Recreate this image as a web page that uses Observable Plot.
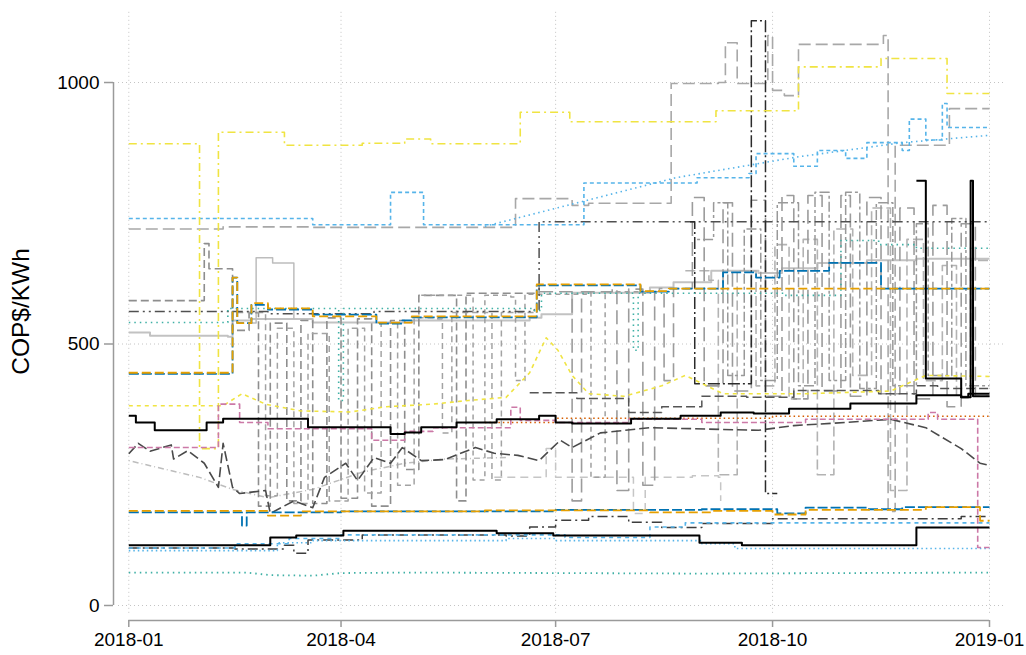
<!DOCTYPE html>
<html><head><meta charset="utf-8">
<script src="https://cdn.jsdelivr.net/npm/d3@7"></script>
<script src="https://cdn.jsdelivr.net/npm/@observablehq/plot@0.6"></script>
<style>body{margin:0;background:#fff}</style>
</head><body><div id="chart"></div>
<script>
// ---------- tick labels ----------
const xTicks = ["2018-01-01","2018-04-01","2018-07-01","2018-10-01","2019-01-01"];
const yTicks = [0, 500, 1000];
const yLabel = "COP$/KWh";

// ---------- series: [date, COP$/KWh] ----------
const lightGray1 = [["2018-01-01",522],["2018-01-10",516],["2018-02-12",514],["2018-02-14",545],["2018-02-22",548],["2018-03-20",541],["2018-05-01",545],["2018-06-20",550],["2018-06-25",557],["2018-07-08",598],["2018-08-10",608],["2018-08-20",618],["2018-09-05",640],["2018-09-25",636],["2018-10-05",645],["2018-10-20",655],["2018-11-10",660],["2018-12-01",663],["2019-01-01",663]];
const lightGray2 = [["2018-02-22",540],["2018-02-24",665],["2018-03-03",655],["2018-03-10",655],["2018-03-12",548]];
const lightGray3 = [["2018-01-01",277],["2018-01-15",262],["2018-01-31",245],["2018-02-14",222],["2018-03-01",206],["2018-03-20",222],["2018-04-10",255],["2018-04-28",272],["2018-05-15",280],["2018-06-10",283]];
const lightGray4 = [["2018-06-05",245],["2018-06-25",245],["2018-06-27",300],["2018-07-01",245],["2018-07-20",245],["2018-08-03",176],["2018-08-08",245],["2018-08-28",248],["2018-09-08",245],["2018-09-09",200]];
const grayA = [["2018-01-01",720],["2018-02-10",724],["2018-03-20",723],["2018-06-14",778],["2018-07-08",765],["2018-07-15",769],["2018-08-19",998],["2018-09-08",1000],["2018-09-11",1076],["2018-09-16",998],["2018-09-29",1090],["2018-10-01",985],["2018-10-06",975],["2018-10-12",1073],["2018-11-17",1090],["2018-11-19",180],["2018-11-22",880],["2018-12-15",950],["2019-01-01",950]];
const gray1 = [["2018-01-01",583],["2018-02-02",692],["2018-02-04",644],["2018-02-14",526],["2018-02-21",560],["2018-02-25",190],["2018-03-02",540],["2018-03-09",200],["2018-03-15",545],["2018-03-20",195],["2018-03-26",550],["2018-04-01",205],["2018-04-08",548],["2018-04-14",190],["2018-04-22",545],["2018-04-28",260],["2018-05-04",593],["2018-05-18",593],["2018-05-20",200],["2018-05-24",597],["2018-06-22",597],["2018-06-24",612]];
const gray2 = [["2018-02-16",560],["2018-02-28",210],["2018-03-05",530],["2018-03-12",195],["2018-03-18",520],["2018-03-27",200],["2018-04-04",530],["2018-04-11",215],["2018-04-18",540],["2018-04-25",230],["2018-05-02",550],["2018-05-12",548],["2018-05-14",330],["2018-05-18",560],["2018-06-02",560],["2018-06-04",240],["2018-06-08",560],["2018-06-22",562]];
const gray3 = [["2018-06-24",600],["2018-07-06",600],["2018-07-08",200],["2018-07-12",600],["2018-07-25",605],["2018-07-27",220],["2018-08-01",605],["2018-08-05",605],["2018-08-07",230],["2018-08-12",600],["2018-08-16",430],["2018-08-20",606],["2018-08-28",780],["2018-09-02",420],["2018-09-10",770],["2018-09-14",410],["2018-09-22",775],["2018-09-28",400],["2018-10-05",784],["2018-10-10",395],["2018-10-16",784],["2018-10-22",410],["2018-10-30",784],["2018-11-03",400],["2018-11-10",780],["2018-11-16",405],["2018-11-24",760],["2018-11-30",395],["2018-12-08",765],["2018-12-14",380],["2018-12-20",730],["2018-12-26",400],["2019-01-01",400]];
const gray4 = [["2018-08-25",640],["2018-09-04",622],["2018-09-08",250],["2018-09-16",640],["2018-09-24",420],["2018-10-02",690],["2018-10-08",395],["2018-10-14",700],["2018-10-20",250],["2018-10-27",720],["2018-11-04",440],["2018-11-12",760],["2018-11-20",220],["2018-11-27",700],["2018-12-04",430],["2018-12-12",650],["2018-12-18",400],["2018-12-24",660],["2019-01-01",660]];
const gray5 = [["2018-08-30",700],["2018-09-06",770],["2018-09-12",440],["2018-09-19",720],["2018-09-26",430],["2018-10-03",770],["2018-10-12",420],["2018-10-19",790],["2018-10-25",430],["2018-11-01",790],["2018-11-07",415],["2018-11-14",770],["2018-11-21",420],["2018-12-01",730],["2018-12-06",440],["2018-12-16",740],["2018-12-22",420],["2019-01-01",420]];
const gray6 = [["2018-05-05",593],["2018-05-25",593],["2018-05-27",240],["2018-06-01",593],["2018-06-12",590],["2018-06-14",430],["2018-06-18",595],["2018-07-14",598],["2018-07-16",245],["2018-07-22",600],["2018-08-14",606],["2018-08-16",600]];
const darkGray1 = [["2018-01-01",290],["2018-01-05",310],["2018-01-10",295],["2018-01-19",307],["2018-01-20",280],["2018-01-26",296],["2018-02-02",272],["2018-02-08",226],["2018-02-10",310],["2018-02-14",226],["2018-02-17",214],["2018-02-28",220],["2018-03-02",176],["2018-03-12",200],["2018-03-20",187],["2018-03-25",245],["2018-04-03",272],["2018-04-08",239],["2018-04-15",283],["2018-04-22",272],["2018-04-27",302],["2018-05-05",277],["2018-05-15",279],["2018-05-28",302],["2018-06-05",291],["2018-06-15",287],["2018-06-24",277],["2018-07-03",316],["2018-07-08",302],["2018-07-20",330],["2018-08-10",340],["2018-09-25",335],["2018-10-10",344],["2018-11-01",350],["2018-11-20",356],["2018-12-05",340],["2018-12-20",300],["2018-12-28",272],["2019-01-01",268]];
const darkGray2 = [["2018-06-20",407],["2018-07-10",396],["2018-08-01",369],["2018-08-15",380],["2018-09-01",400],["2018-09-20",398],["2018-10-10",411],["2018-11-15",405],["2018-12-01",420],["2018-12-10",415],["2019-01-01",410]];
const darkGray3 = [["2018-01-01",562],["2018-02-01",562],["2018-03-01",558],["2018-04-15",562],["2018-06-22",566],["2018-06-24",734],["2019-01-01",736]];
const darkGray4 = [["2018-01-01",110],["2018-02-15",108],["2018-03-08",115],["2018-03-12",100],["2018-03-18",125],["2018-04-10",135],["2018-06-10",133],["2018-06-20",150],["2018-07-01",163],["2018-07-15",170],["2018-08-01",159],["2018-08-15",149],["2018-09-01",157],["2018-10-01",166],["2018-12-10",166],["2018-12-20",170],["2019-01-01",170]];
const nearBlack1 = [["2018-08-27",734],["2018-08-29",424],["2018-09-21",424],["2018-09-22",1118],["2018-09-27",1118],["2018-09-28",214],["2018-10-03",214]];
const yellow1 = [["2018-01-01",883],["2018-01-31",300],["2018-02-08",905],["2018-03-08",880],["2018-04-10",884],["2018-04-28",892],["2018-05-09",883],["2018-06-16",943],["2018-07-07",925],["2018-09-07",946],["2018-10-12",1030],["2018-11-16",1046],["2018-12-14",979],["2019-01-01",979]];
const yellow2 = [["2018-01-01",382],["2018-01-31",382],["2018-02-10",382],["2018-02-18",405],["2018-02-28",385],["2018-03-15",372],["2018-04-05",370],["2018-04-20",380],["2018-05-10",385],["2018-05-25",392],["2018-06-10",398],["2018-06-20",445],["2018-06-27",512],["2018-07-02",488],["2018-07-08",440],["2018-07-15",405],["2018-07-30",400],["2018-08-15",420],["2018-08-25",440],["2018-09-10",405],["2018-10-15",405],["2018-11-20",410],["2018-12-05",440],["2019-01-01",438]];
const teal1 = [["2018-01-01",63],["2018-02-20",63],["2018-03-02",58],["2018-03-20",57],["2018-04-01",62],["2018-05-01",63],["2018-07-01",62],["2018-09-01",61],["2019-01-01",63]];
const teal2 = [["2018-01-01",541],["2018-02-06",541],["2018-02-12",568],["2018-03-30",568],["2018-03-31",392],["2018-04-02",568],["2018-06-22",564],["2018-06-25",597],["2018-08-02",597],["2018-08-03",488],["2018-08-05",597],["2018-10-06",593],["2018-10-30",698],["2018-11-15",690],["2018-12-01",683],["2019-01-01",683]];
const sky1 = [["2018-06-01",725],["2018-08-21",818],["2018-10-12",858],["2018-11-25",885],["2019-01-01",899]];
const sky2 = [["2018-01-01",740],["2018-03-20",728],["2018-04-22",790],["2018-05-06",728],["2018-07-13",808],["2018-08-30",818],["2018-09-21",826],["2018-09-24",864],["2018-10-10",840],["2018-10-20",870],["2018-11-01",855],["2018-11-10",885],["2018-11-25",870],["2018-11-28",930],["2018-12-05",890],["2018-12-12",960],["2018-12-14",914],["2019-01-01",914]];
const sky3 = [["2018-01-01",105],["2018-02-10",105],["2018-03-05",120],["2018-03-20",124],["2018-06-10",128],["2018-07-01",124],["2018-09-01",118],["2018-09-15",109],["2019-01-01",109]];
const sky4 = [["2018-01-01",110],["2018-02-15",118],["2018-03-10",128],["2018-04-01",135],["2018-06-15",135],["2018-07-05",130],["2018-08-10",150],["2018-08-25",158],["2019-01-01",158]];
const blueA = [["2018-01-01",443],["2018-02-14",627],["2018-02-16",540],["2018-02-22",575],["2018-03-01",566],["2018-03-20",556],["2018-04-16",539],["2018-04-27",545],["2018-05-01",551],["2018-06-23",612],["2018-08-06",600],["2018-08-18",606],["2018-09-10",637],["2018-09-24",627],["2018-10-04",640],["2018-10-25",655],["2018-11-16",606],["2019-01-01",606]];
const orangeA = [["2018-01-01",445],["2018-02-14",627],["2018-02-16",540],["2018-02-22",578],["2018-03-01",568],["2018-03-20",553],["2018-04-16",541],["2018-05-01",553],["2018-06-23",614],["2018-08-06",601],["2018-08-18",606],["2019-01-01",606]];
const blueB = [["2018-01-01",178],["2018-02-18",153],["2018-02-20",178],["2018-04-01",180],["2018-07-01",183],["2018-09-01",184],["2018-10-03",176],["2018-10-15",187],["2018-11-10",184],["2018-11-25",188],["2019-01-01",188]];
const orangeB = [["2018-01-01",181],["2018-03-01",172],["2018-03-15",180],["2018-06-01",182],["2018-08-10",178],["2018-09-05",181],["2018-10-01",174],["2018-10-15",183],["2018-12-05",188],["2018-12-28",162],["2019-01-01",162]];
const pink = [["2018-01-01",302],["2018-02-06",302],["2018-02-08",385],["2018-02-17",350],["2018-03-01",338],["2018-04-14",316],["2018-04-28",333],["2018-05-10",340],["2018-06-12",379],["2018-06-16",354],["2018-07-01",350],["2018-08-01",356],["2018-09-01",350],["2018-10-15",356],["2018-12-06",369],["2018-12-10",356],["2018-12-27",111],["2019-01-01",111]];
const vermillion = [["2018-06-01",350],["2018-07-01",358],["2018-10-01",362],["2019-01-01",362]];
const black1 = [["2018-01-01",363],["2018-01-04",350],["2018-01-12",335],["2018-02-03",350],["2018-02-10",357],["2018-03-18",341],["2018-04-22",328],["2018-04-28",331],["2018-05-05",341],["2018-05-20",350],["2018-06-06",356],["2018-06-24",363],["2018-07-01",350],["2018-07-08",348],["2018-08-02",357],["2018-08-23",363],["2018-09-09",369],["2018-09-23",367],["2018-10-08",376],["2018-11-03",386],["2018-12-01",402],["2018-12-20",398],["2018-12-23",405],["2019-01-01",405]];
const black2 = [["2018-01-01",115],["2018-03-02",130],["2018-03-13",134],["2018-04-02",143],["2018-06-06",138],["2018-06-30",134],["2018-08-31",120],["2018-09-18",115],["2018-12-01",149],["2019-01-01",149]];
const black3 = [["2018-12-01",812],["2018-12-05",434],["2018-12-20",398],["2018-12-24",812],["2018-12-25",400],["2019-01-01",400]];

// ---------- drawing order and styles ----------
const seriesList = [
  {data: lightGray3, color: "#bdbdbd", w: 1.5, dash: "1,3,6,3", curve: "linear"},
  {data: lightGray4, color: "#c6c6c6", w: 1.5, dash: "8,5"},
  {data: lightGray1, color: "#c2c2c2", w: 2},
  {data: lightGray2, color: "#bdbdbd", w: 1.5},
  {data: grayA, color: "#a8a8a8", w: 1.6, dash: "12,5"},
  {data: gray4, color: "#b3b3b3", w: 1.6, dash: "10,4"},
  {data: gray1, color: "#8e8e8e", w: 1.6, dash: "8,4"},
  {data: gray2, color: "#a3a3a3", w: 1.5, dash: "6,4"},
  {data: gray6, color: "#a0a0a0", w: 1.5, dash: "5,4"},
  {data: gray3, color: "#9c9c9c", w: 1.6, dash: "14,6"},
  {data: gray5, color: "#999999", w: 1.5, dash: "3,3,10,3"},
  {data: darkGray3, color: "#505050", w: 1.5, dash: "10,4,2,4,2,4"},
  {data: darkGray1, color: "#4a4a4a", w: 1.6, dash: "10,4", curve: "linear"},
  {data: darkGray2, color: "#555555", w: 1.5, dash: "9,4"},
  {data: darkGray4, color: "#3d3d3d", w: 1.5, dash: "10,4,2,4"},
  {data: nearBlack1, color: "#2b2b2b", w: 1.5, dash: "12,3,2,3"},
  {data: teal1, color: "#3fb0a5", w: 1.8, dash: "1.5,4", curve: "linear"},
  {data: teal2, color: "#3fb0a5", w: 1.6, dash: "1.5,4"},
  {data: sky1, color: "#56b4e9", w: 1.6, dash: "1.5,3.5", curve: "linear"},
  {data: sky2, color: "#56b4e9", w: 1.6, dash: "4,3"},
  {data: sky3, color: "#56b4e9", w: 1.6, dash: "1.5,3"},
  {data: sky4, color: "#56b4e9", w: 1.6, dash: "4,4"},
  {data: yellow1, color: "#f0e442", w: 1.6, dash: "8,4,2,4"},
  {data: yellow2, color: "#f0e442", w: 1.6, dash: "4,4", curve: "linear"},
  {data: blueA, color: "#0072b2", w: 1.8, dash: "10,3"},
  {data: orangeA, color: "#e69f00", w: 1.8, dash: "9,4"},
  {data: blueB, color: "#0072b2", w: 1.8, dash: "10,3"},
  {data: orangeB, color: "#e69f00", w: 1.8, dash: "9,4"},
  {data: vermillion, color: "#d55e00", w: 1.5, dash: "1.5,3"},
  {data: pink, color: "#cc79a7", w: 1.6, dash: "6,3"},
  {data: black2, color: "#000000", w: 2},
  {data: black1, color: "#000000", w: 2},
  {data: black3, color: "#000000", w: 2}
];

// ---------- scales (pixel anchors of the reference) ----------
const parse = s => new Date(s + "T00:00:00Z");
const t0 = Date.UTC(2018,0,1), t1 = Date.UTC(2019,0,1);
const px0 = 128.3, px1 = 989;
const pxPerMs = (px1 - px0) / (t1 - t0);
const xDomain = [new Date(t0 - (px0 - 113) / pxPerMs), new Date(t0 + (1005 - px0) / pxPerMs)];
const yDomain = [-28.7, 1137.7];
const gridLeft = new Date(t0 - (px0 - 118) / pxPerMs);

const marks = [
  Plot.ruleX(xTicks.map(parse), {x: d => d, y1: () => -15, y2: () => 1137, stroke: "#c4c4c4", strokeDasharray: "1,3", strokeWidth: 1}),
  Plot.ruleY(yTicks, {y: d => d, x1: () => gridLeft, x2: () => xDomain[1], stroke: "#c4c4c4", strokeDasharray: "1,3", strokeWidth: 1})
];
for (const s of seriesList) {
  const o = {x: d => parse(d[0]), y: d => d[1], stroke: s.color, strokeWidth: s.w, curve: s.curve || "step-after", strokeLinecap: "butt"};
  if (s.dash) o.strokeDasharray = s.dash;
  marks.push(Plot.line(s.data, o));
}
marks.push(
  Plot.ruleY([yDomain[0]], {y: d => d, x1: () => new Date(t0), x2: () => new Date(t1), stroke: "#9a9a9a", strokeWidth: 1.5}),
  Plot.ruleX([xDomain[0]], {x: d => d, y1: () => 0, y2: () => 1000, stroke: "#9a9a9a", strokeWidth: 1.5}),
  Plot.axisX(xTicks.map(parse), {tickFormat: d3.utcFormat("%Y-%m"), tickSize: 7, tickPadding: 5, stroke: "#9a9a9a", strokeWidth: 1.5, fill: "#000", fontSize: 19}),
  Plot.axisY(yTicks, {tickFormat: d => String(d), tickSize: 9, tickPadding: 5, stroke: "#9a9a9a", strokeWidth: 1.5, fill: "#000", fontSize: 19}),
  Plot.text([yLabel], {frameAnchor: "left", textAnchor: "middle", rotate: -90, dx: -92, dy: -4, fontSize: 24.5, fill: "#000"})
);

const chart = Plot.plot({
  width: 1026, height: 655,
  marginLeft: 113, marginRight: 21, marginTop: 10, marginBottom: 35,
  x: {type: "utc", domain: xDomain},
  y: {domain: yDomain},
  style: {fontFamily: "'Liberation Sans', Arial, sans-serif", fontSize: "19px", background: "#fff", color: "#000"},
  marks
});
document.getElementById("chart").appendChild(chart);
</script>
</body></html>
